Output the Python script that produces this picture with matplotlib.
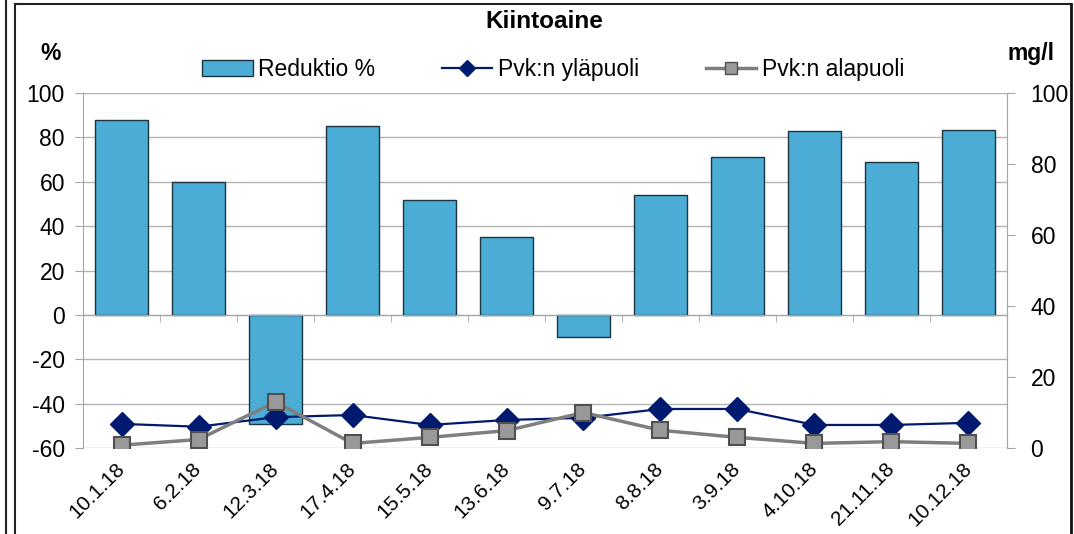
import numpy as np
import matplotlib
matplotlib.use("Agg")
import matplotlib.pyplot as plt
from matplotlib.lines import Line2D
from matplotlib.patches import Patch

plt.rcParams['font.family'] = ['Liberation Sans', 'DejaVu Sans']
plt.rcParams['axes.unicode_minus'] = False

dates = ['10.1.18', '6.2.18', '12.3.18', '17.4.18', '15.5.18', '13.6.18',
         '9.7.18', '8.8.18', '3.9.18', '4.10.18', '21.11.18', '10.12.18']
reduktio = [88, 60, -49, 85, 52, 35, -10, 54, 71, 83, 69, 83.5]
ylapuoli = [6.8, 6.0, 8.7, 9.3, 6.5, 7.9, 8.5, 11, 11, 6.5, 6.5, 7.1]
alapuoli = [0.8, 2.4, 13, 1.3, 3.0, 4.9, 10, 5.0, 3.0, 1.3, 1.8, 1.3]

bar_col = '#4bacd6'
navy = '#001a70'
grey = '#7f7f7f'
axis_col = '#a6a6a6'
fs = 16.5

fig = plt.figure(figsize=(10.74, 5.34), dpi=100)
ax = fig.add_axes([0.0773, 0.161, 0.8603, 0.6648])
x = np.arange(len(dates))

ax.set_ylim(-60, 100)
ax.set_xlim(-0.5, len(dates) - 0.5)
ax.set_yticks(range(-60, 101, 20))
ax.grid(axis='y', color='#b3b3b3', lw=1)
ax.set_axisbelow(True)
ax.bar(x, reduktio, width=0.68, color=bar_col, edgecolor='#1c3540', lw=1, zorder=2)

# category axis crosses at 0, labels stay at the bottom
ax.spines['bottom'].set_position(('data', 0))
ax.spines['top'].set_visible(False)
for s in ['left', 'right', 'bottom']:
    ax.spines[s].set_color(axis_col)
ax.set_xticks(x)
ax.set_xticks(np.arange(len(dates) + 1) - 0.5, minor=True)
ax.tick_params(axis='x', which='major', length=0, labelbottom=False)
ax.tick_params(axis='x', which='minor', length=5, color=axis_col, direction='out')
ax.tick_params(axis='y', length=6, color=axis_col, labelsize=fs, pad=7)

sec = ax.secondary_xaxis(0)
sec.set_xticks(x)
sec.set_xticklabels(dates, rotation=45, ha='right', va='center',
                    rotation_mode='anchor', fontsize=15)
sec.tick_params(length=0, pad=13)
sec.spines['bottom'].set_visible(False)

ax2 = ax.twinx()
ax2.set_ylim(0, 100)
ax2.set_yticks(range(0, 101, 20))
for s in ['left', 'right', 'bottom', 'top']:
    ax2.spines[s].set_visible(False)
ax2.spines['right'].set_visible(True)
ax2.spines['right'].set_color(axis_col)
ax2.tick_params(axis='y', length=6, color=axis_col, labelsize=fs, pad=11)

ax2.plot(x, ylapuoli, color=navy, lw=1.6, marker='D', markersize=12.5,
         markerfacecolor=navy, markeredgecolor=navy, zorder=3)
ax2.plot(x, alapuoli, color=grey, lw=2.5, marker='s', markersize=12,
         markerfacecolor='#999999', markeredgecolor='#505050', markeredgewidth=1.5,
         zorder=4)

handles = [Patch(facecolor=bar_col, edgecolor='#1c3540', lw=1),
           Line2D([], [], color=navy, lw=1.6, marker='D', markersize=8,
                  markerfacecolor=navy, markeredgecolor=navy),
           Line2D([], [], color=grey, lw=2.5, marker='s', markersize=9,
                  markerfacecolor='#999999', markeredgecolor='#505050')]
fig.legend(handles, ['Reduktio %', 'Pvk:n yläpuoli', 'Pvk:n alapuoli'],
           loc='center', bbox_to_anchor=(0.515, 0.869), ncol=3, frameon=False,
           fontsize=fs, handlelength=2.2, handletextpad=0.25, columnspacing=2.9)

fig.text(0.507, 0.959, 'Kiintoaine', ha='center', va='center',
         fontsize=17.5, fontweight='bold')
fig.text(0.047, 0.9, '%', ha='center', va='center', fontsize=fs, fontweight='bold')
fig.text(0.96, 0.9, 'mg/l', ha='center', va='center', fontsize=fs, fontweight='bold')

# chart frame
W, H = 1074, 534
fig.add_artist(Line2D([6 / W, 6 / W], [0, 1], color='#222222', lw=1.5))
fig.add_artist(Line2D([15 / W, 15 / W], [0, 1 - 4 / H], color='#222222', lw=1.5))
fig.add_artist(Line2D([15 / W, 1071 / W], [1 - 4 / H, 1 - 4 / H], color='#222222', lw=1.5))
fig.add_artist(Line2D([1071 / W, 1071 / W], [0, 1 - 4 / H], color='#111111', lw=2))

fig.savefig('out.png', dpi=100)
